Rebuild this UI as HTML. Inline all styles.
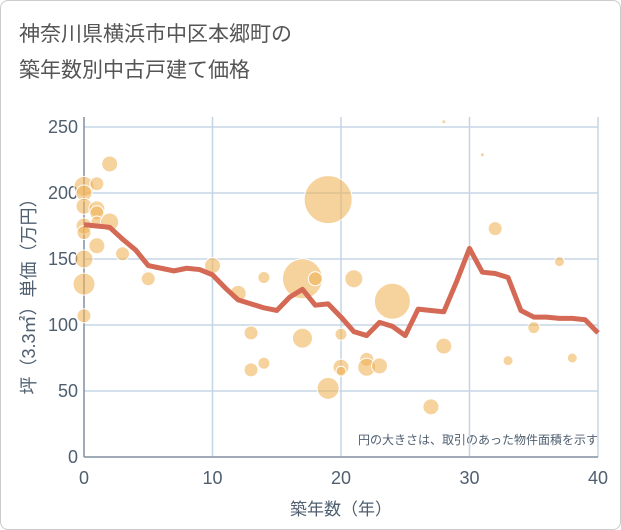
<!DOCTYPE html>
<html><head><meta charset="utf-8">
<style>
body{margin:0;background:#fff;}
#wrap{width:619px;height:528px;border:1px solid #ccc;border-radius:8px;position:relative;overflow:hidden;background:#fff;}
svg text{font-family:"Liberation Sans","Noto Sans CJK JP",sans-serif;}
</style></head>
<body>
<div id="wrap">
<svg id="c" width="621" height="530">
<text x="18" y="40" font-size="21" fill="#555">神奈川県横浜市中区本郷町の</text>
<text x="18" y="76" font-size="21" fill="#555">築年数別中古戸建て価格</text>
<text x="597" y="443" font-size="12" fill="#4f5f70" text-anchor="end">円の大きさは、取引のあった物件面積を示す</text>
<text x="340" y="514" font-size="17" fill="#4f5f70" text-anchor="middle">築年数（年）</text>
<text transform="translate(34,291) rotate(-90)" font-size="18" fill="#4f5f70" text-anchor="middle">坪（3.3㎡）単価（万円）</text>
</svg>
</div>
<script>
const xTicks=[0,10,20,30,40];
const yTicks=[0,50,100,150,200,250];
const bubbleX=[0,0,0,0,0,0,0,0,1,1,1,1,1,2,2,3,5,10,12,13,13,14,14,17,17,18,19,19,20,20,20,21,22,22,23,24,27,28,28,31,32,33,35,37,38];
const bubbleY=[205,200,190,175,170,150,131,107,207,188,185,160,178,222,178,154,135,145,124,94,66,136,71,135,90,135,195,52,93,68,65,135,74,68,69,118,38,84,254,229,173,73,98,148,75];
const bubbleR=[10,8,8,8,7,9,11,7,7,8,7,8,6,8,9,7,7,8,8,7,7,6,6,20,10,7,24,11,6,8,5,9,7,9,8,18,8,8,2,2,7,5,6,5,5];
const lineX=[0,1,2,3,4,5,6,7,8,9,10,11,12,13,14,15,16,17,18,19,20,21,22,23,24,25,26,27,28,29,30,31,32,33,34,35,36,37,38,39,40];
const lineY=[176,175,174,165,157,145,143,141,143,142,138,128,119,116,113,111,121,127,115,116,106,95,92,102,99,92,112,111,110,133,158,140,139,136,111,106,106,105,105,104,94];
const svg=document.getElementById('c');const NS='http://www.w3.org/2000/svg';
const X0=83,X1=597,Y0=456,Y1=126;
const sx=v=>X0+(v-0)/(40-0)*(X1-X0);
const sy=v=>Y0-(v-0)/(250-0)*(Y0-Y1);
function mk(t,a){const e=document.createElementNS(NS,t);for(const k in a)e.setAttribute(k,a[k]);svg.appendChild(e);return e;}
xTicks.forEach(t=>{
 const l=mk('line',{x1:sx(t),x2:sx(t),y1:Y1-10,y2:Y0,stroke:'#c5d5e6','stroke-width':1.5});
 
 
 const tx=mk('text',{x:sx(t),y:Y0+27,'font-size':18,fill:'#4f5f70','text-anchor':'middle'});tx.textContent=t;
 
 
});
yTicks.forEach(t=>{
 const l=mk('line',{x1:X0,x2:X1,y1:sy(t),y2:sy(t),stroke:'#c5d5e6','stroke-width':1.5});
 
 
 const tx=mk('text',{x:X0-6,y:sy(t)+6,'font-size':18,fill:'#4f5f70','text-anchor':'end'});tx.textContent=t;
 
 
});
const ax=mk('line',{x1:X0,x2:X0,y1:Y1-10,y2:Y0,stroke:'#8a96a3','stroke-width':1.5});


const ax2=mk('line',{x1:X0,x2:X1,y1:Y0,y2:Y0,stroke:'#8a96a3','stroke-width':1.5});


bubbleX.forEach((v,i)=>{
 const c=mk('circle',{cx:sx(v),cy:sy(bubbleY[i]),r:bubbleR[i],fill:'rgba(240,180,90,0.6)',stroke:'#fff','stroke-width':1});
 
 
});
const p=mk('polyline',{points:lineX.map((v,i)=>sx(v)+','+sy(lineY[i])).join(' '),fill:'none',stroke:'#d46a55','stroke-width':5,'stroke-linejoin':'round'});


</script>
</body></html>
